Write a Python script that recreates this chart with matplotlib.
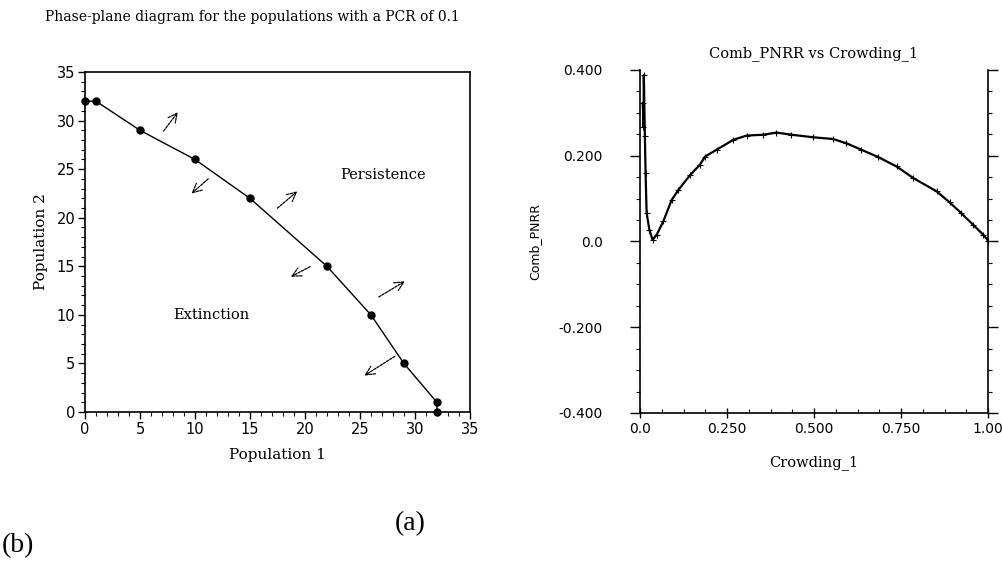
"""
Phase-plane diagram of two populations (left) and the combined
per-capita net reproductive rate against crowding (right).
"""
import matplotlib
matplotlib.use("Agg")
import matplotlib.pyplot as plt
from matplotlib.ticker import MultipleLocator, FixedLocator

# ---------------------------------------------------------------------------
# Data
# ---------------------------------------------------------------------------

# separatrix between extinction and persistence
pop1 = [0, 1, 5, 10, 15, 22, 26, 29, 32, 32]
pop2 = [32, 32, 29, 26, 22, 15, 10, 5, 1, 0]

# direction arrows: (x_tail, y_tail, x_head, y_head)
arrows = [
    (7.0, 28.7, 8.6, 31.1),
    (11.4, 24.2, 9.5, 22.3),
    (17.3, 20.8, 19.5, 22.9),
    (20.7, 15.1, 18.5, 13.8),
    (26.5, 11.7, 29.3, 13.6),
    (28.4, 5.9, 25.2, 3.6),
]

# Comb_PNRR vs Crowding_1
crowding = [0.008, 0.010, 0.011, 0.014, 0.016, 0.019, 0.027, 0.036, 0.048,
            0.067, 0.091, 0.110, 0.144, 0.172, 0.187, 0.220, 0.268, 0.306,
            0.354, 0.392, 0.435, 0.498, 0.555, 0.593, 0.636, 0.684, 0.737,
            0.785, 0.852, 0.890, 0.923, 0.957, 0.986, 1.000]
pnrr = [0.322, 0.268, 0.388, 0.245, 0.159, 0.066, 0.027, 0.004, 0.016,
        0.047, 0.097, 0.120, 0.155, 0.179, 0.198, 0.214, 0.237, 0.247,
        0.249, 0.254, 0.249, 0.243, 0.239, 0.229, 0.214, 0.197, 0.175,
        0.148, 0.117, 0.091, 0.066, 0.039, 0.016, 0.002]

SERIF = "DejaVu Serif"
SANS = "DejaVu Sans"
BOOK = "Liberation Serif"

fig = plt.figure(figsize=(10.03, 5.68), dpi=100)

# ---------------------------------------------------------------------------
# Left: phase plane
# ---------------------------------------------------------------------------
ax1 = fig.add_axes([0.0847, 0.2746, 0.3838, 0.5986])
ax1.plot(pop1, pop2, color="black", lw=1.0, marker="o", ms=5, clip_on=False,
         zorder=3)
for x0, y0, x1, y1 in arrows:
    ax1.annotate("", xy=(x1, y1), xytext=(x0, y0),
                 arrowprops=dict(arrowstyle="->", color="black", lw=0.9,
                                 mutation_scale=16, linestyle=(0, (2, 1))))
ax1.text(27.1, 24.4, "Persistence", fontsize=10.5, family=SERIF,
         ha="center", va="center")
ax1.text(11.5, 10.0, "Extinction", fontsize=10.5, family=SERIF,
         ha="center", va="center")

ax1.set_xlim(0, 35)
ax1.set_ylim(0, 35)
ax1.xaxis.set_major_locator(MultipleLocator(5))
ax1.yaxis.set_major_locator(MultipleLocator(5))
ax1.xaxis.set_minor_locator(MultipleLocator(1))
ax1.yaxis.set_minor_locator(MultipleLocator(1))
ax1.tick_params(which="major", length=5, width=1, direction="out",
                labelsize=10.5, pad=2)
ax1.tick_params(which="minor", length=3, width=0.8, direction="out")
for lab in ax1.get_xticklabels() + ax1.get_yticklabels():
    lab.set_family(SANS)
for sp in ax1.spines.values():
    sp.set_linewidth(1.2)
ax1.set_xlabel("Population 1", fontsize=11, family=SERIF, labelpad=8)
ax1.set_ylabel("Population 2", fontsize=11, family=SERIF, labelpad=6)

fig.text(0.252, 0.970, "Phase-plane diagram for the populations with a PCR of 0.1",
         fontsize=10, family=SERIF, ha="center", va="center")

# ---------------------------------------------------------------------------
# Right: Comb_PNRR vs Crowding_1
# ---------------------------------------------------------------------------
ax2 = fig.add_axes([0.6381, 0.2729, 0.3470, 0.6039])
ax2.plot(crowding, pnrr, color="black", lw=1.6, marker="+", ms=4, mew=0.8)
ax2.set_xlim(0, 1)
ax2.set_ylim(-0.4, 0.4)
ax2.spines["top"].set_visible(False)
for sp in ("left", "right", "bottom"):
    ax2.spines[sp].set_linewidth(1.2)

ax2.xaxis.set_major_locator(FixedLocator([0, 0.25, 0.5, 0.75, 1.0]))
ax2.xaxis.set_minor_locator(MultipleLocator(0.0625))
ax2.yaxis.set_major_locator(FixedLocator([-0.4, -0.2, 0.0, 0.2, 0.4]))
ax2.yaxis.set_minor_locator(MultipleLocator(0.05))
ax2.set_xticklabels(["0.0", "0.250", "0.500", "0.750", "1.00"])
ax2.set_yticklabels(["-0.400", "-0.200", "0.0", "0.200", "0.400"])
ax2.tick_params(axis="y", which="both", right=True, direction="out")
ax2.tick_params(axis="y", which="major", length=7, width=1, labelsize=10, pad=20)
ax2.tick_params(axis="y", which="minor", length=3, width=0.8)
ax2.tick_params(axis="x", which="major", length=7, width=1, direction="inout",
                labelsize=10, pad=3)
ax2.tick_params(axis="x", which="minor", length=3, width=0.8, direction="in")
for lab in ax2.get_xticklabels() + ax2.get_yticklabels():
    lab.set_family(SANS)
ax2.set_title("Comb_PNRR vs Crowding_1", fontsize=10.5, family=SERIF, pad=9)
ax2.set_xlabel("Crowding_1", fontsize=10.5, family=SERIF, labelpad=14)
ax2.set_ylabel("Comb_PNRR", fontsize=9, family=SANS, labelpad=12)

# panel labels
fig.text(0.409, 0.079, "(a)", fontsize=20, family=BOOK, ha="center", va="center")
fig.text(0.018, 0.040, "(b)", fontsize=20, family=BOOK, ha="center", va="center")

fig.savefig("out.png", dpi=100)
